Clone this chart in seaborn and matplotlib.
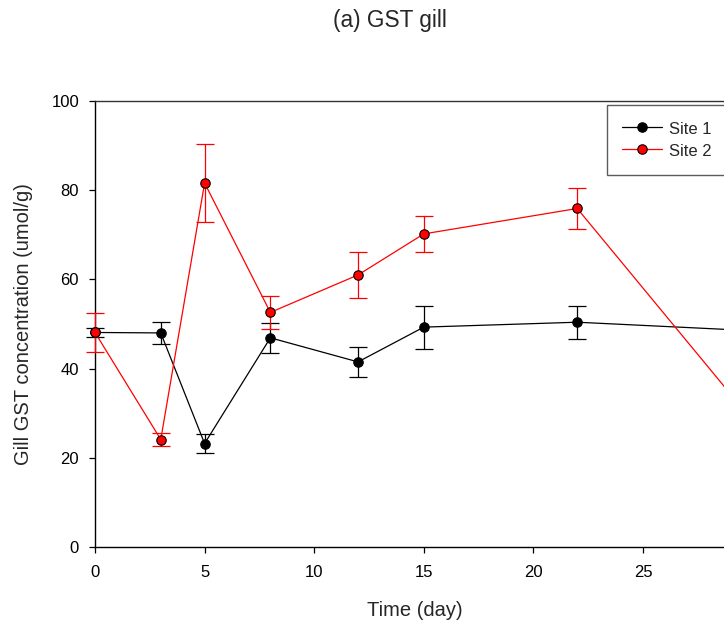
import matplotlib
matplotlib.use("Agg")
import matplotlib.pyplot as plt
import seaborn as sns
import pandas as pd

# Sampling days and GST activity (mean and SE) for each site
days = [0, 3, 5, 8, 12, 15, 22, 30]
site1_mean = [48.1, 48.0, 23.2, 46.9, 41.5, 49.3, 50.4, 48.5]
site1_err = [1.0, 2.4, 2.1, 3.4, 3.3, 4.8, 3.7, 3.0]
site2_mean = [48.1, 24.1, 81.6, 52.6, 61.0, 70.2, 75.9, 28.3]
site2_err = [4.4, 1.5, 8.8, 3.7, 5.1, 4.1, 4.6, 3.0]
sites = ["Site 1", "Site 2"]
colors = {"Site 1": "black", "Site 2": "red"}
x_ticks = [0, 5, 10, 15, 20, 25]
y_ticks = [0, 20, 40, 60, 80, 100]

df = pd.concat([
    pd.DataFrame({"day": days, "value": site1_mean, "err": site1_err, "site": "Site 1"}),
    pd.DataFrame({"day": days, "value": site2_mean, "err": site2_err, "site": "Site 2"}),
], ignore_index=True)

sns.set_style("white")
plt.rcParams["font.family"] = ["Liberation Sans", "DejaVu Sans"]

W, H = 724, 627
fig = plt.figure(figsize=(W / 100, H / 100), dpi=100)
x_right = 95 + 30 * 21.92
ax = fig.add_axes([95 / W, (H - 547) / H, (x_right - 95) / W, 446 / H])

for s in sites:
    d = df[df["site"] == s]
    eb = ax.errorbar(d["day"], d["value"], yerr=d["err"], fmt="none",
                     ecolor=colors[s], elinewidth=0.9, capsize=6.5,
                     capthick=0.9, zorder=2 if s == "Site 1" else 4)
    for art in eb.get_children():
        art.set_clip_on(False)

sns.lineplot(data=df, x="day", y="value", hue="site", palette=colors,
             marker="o", markersize=6.8, markeredgecolor="black",
             markeredgewidth=0.8, linewidth=0.9, ax=ax, legend=False,
             estimator=None, sort=True, zorder=5)
for ln in ax.get_lines():
    ln.set_clip_on(False)
    if ln.get_color() in ("red", (1.0, 0.0, 0.0, 1.0)):
        ln.set_zorder(6)

ax.set_xlim(0, 30)
ax.set_ylim(0, 100)
ax.set_xticks(x_ticks)
ax.set_yticks(y_ticks)

for side in ["left", "bottom"]:
    ax.spines[side].set_color("black")
    ax.spines[side].set_linewidth(1.0)
ax.spines["top"].set_color("#333333")
ax.spines["top"].set_linewidth(1.0)
ax.spines["right"].set_visible(False)

ax.tick_params(direction="out", length=4, width=0.9, colors="black",
               labelsize=12, left=True, bottom=True)
ax.tick_params(axis="x", pad=9)
ax.tick_params(axis="y", pad=7.5)

ax.set_xlabel("Time (day)", fontsize=14.5, va="center")
ax.set_ylabel("Gill GST concentration (umol/g)", fontsize=14.5, va="center")
ax.xaxis.set_label_coords((414.5 - 95) / (x_right - 95), (547 - 611) / 446)
ax.yaxis.set_label_coords((24 - 95) / (x_right - 95), 0.5)

fig.text(390 / W, 1 - 21 / H, "(a) GST gill", ha="center", va="center",
         fontsize=16.3)

handles = []
for s in sites:
    h, = ax.plot([], [], color=colors[s], marker="o", markersize=6.8,
                 markeredgecolor="black", markeredgewidth=0.8, linewidth=0.9)
    handles.append(h)
leg = ax.legend(handles, sites, loc="upper left",
                bbox_to_anchor=(607 / W, 1 - 105 / H),
                bbox_transform=fig.transFigure, borderaxespad=0,
                frameon=True, fancybox=False, fontsize=12,
                handlelength=2.4, handletextpad=0.45, labelspacing=0.23,
                handleheight=1.3, borderpad=0.88)
leg.get_frame().set_edgecolor("#333333")
leg.get_frame().set_linewidth(1.0)

fig.savefig("out.png", dpi=100)
